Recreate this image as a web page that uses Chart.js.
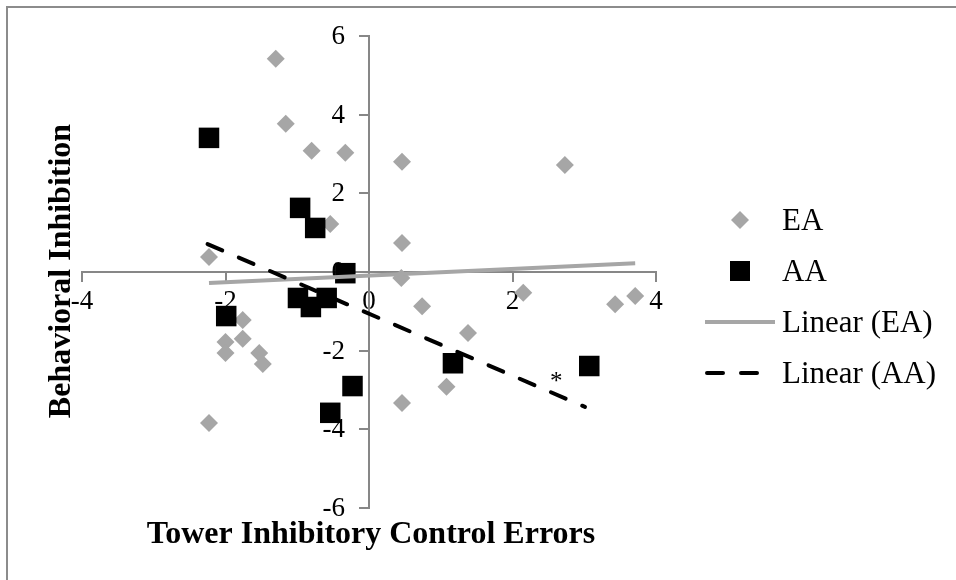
<!DOCTYPE html>
<html>
<head>
<meta charset="utf-8">
<script src="https://cdn.jsdelivr.net/npm/chart.js@4.4.1/dist/chart.umd.min.js"></script>
<style>
  body { margin: 0; background: #fff; }
  #marco { position: absolute; left: 0; top: 0; width: 956px; height: 580px; overflow: hidden; background: #fff; }
  #borde { position: absolute; left: 6px; top: 6px; width: 1000px; height: 1000px; border-left: 2px solid #8c8c8c; border-top: 2px solid #8c8c8c; }
  canvas { position: absolute; left: 0; top: 0; }
</style>
</head>
<body>
<div id="marco">
  <div id="borde"></div>
  <canvas id="grafico" width="956" height="580"></canvas>
</div>
<script>
// datos
const eaX = [-1.30, -1.16, -0.80, -0.33, 0.46, -0.54, 0.46, -2.23, 0.45, 0.74, 2.15, 3.43,
             3.71, 1.38, 1.08, 0.46, 2.73, -1.76, -2.00, -1.76, -2.00, -1.53, -1.48, -2.23];
const eaY = [5.42, 3.77, 3.08, 3.03, 2.80, 1.22, 0.74, 0.38, -0.15, -0.87, -0.53, -0.82,
             -0.61, -1.55, -2.92, -3.33, 2.72, -1.22, -1.78, -1.70, -2.06, -2.06, -2.34, -3.84];

const aaX = [-2.23, -0.96, -0.75, -0.33, -1.99, -0.99, -0.81, -0.59, -0.23, -0.54, 1.17, 3.07];
const aaY = [3.41, 1.63, 1.12, -0.03, -1.12, -0.66, -0.89, -0.66, -2.90, -3.58, -2.32, -2.39];

// tendencias (extremos)
const lineaEAX = [-2.23, 3.71];
const lineaEAY = [-0.28, 0.22];
const lineaAAX = [-2.25, 3.01];
const lineaAAY = [0.71, -3.43];

const nombres = ["EA", "AA", "Linear (EA)", "Linear (AA)"];
const tituloX = "Tower Inhibitory Control Errors";
const tituloY = "Behavioral Inhibition";
const nota = { x: 2.61, y: -2.82, texto: "*" };

const fuente = "'Liberation Serif', 'Times New Roman', serif";
const grisEje = "#878787";
const tamTicks = 27;

const puntos = (xs, ys) => xs.map((x, i) => ({ x: x, y: ys[i] }));

const textos = {
  id: "textos",
  beforeDatasetsDraw(chart) {
    // etiquetas del eje y, a la izquierda del eje central
    const ctx = chart.ctx;
    const sx = chart.scales.x, sy = chart.scales.y;
    const x0 = sx.getPixelForValue(0);
    ctx.save();
    ctx.fillStyle = "#000";
    ctx.font = tamTicks + "px " + fuente;
    ctx.textAlign = "right";
    ctx.textBaseline = "middle";
    sy.ticks.forEach(t => {
      ctx.fillText(String(t.value), x0 - 24, sy.getPixelForValue(t.value) + 1);
    });
    ctx.restore();
  },
  afterDatasetsDraw(chart) {
    const ctx = chart.ctx;
    const sx = chart.scales.x, sy = chart.scales.y;
    ctx.save();
    ctx.fillStyle = "#000";
    ctx.font = "25px " + fuente;
    ctx.textAlign = "center";
    ctx.textBaseline = "middle";
    ctx.fillText(nota.texto, sx.getPixelForValue(nota.x), sy.getPixelForValue(nota.y));
    ctx.restore();
  },
  afterDraw(chart) {
    const ctx = chart.ctx;
    ctx.save();
    ctx.fillStyle = "#000";
    ctx.font = "bold 32px " + fuente;
    ctx.textAlign = "center";
    ctx.textBaseline = "alphabetic";
    ctx.fillText(tituloX, 371, 543);
    ctx.translate(70, 271);
    ctx.rotate(-Math.PI / 2);
    ctx.fillText(tituloY, 0, 0);
    ctx.restore();

    // leyenda
    const ds = chart.data.datasets;
    const base = [230, 281, 332, 383];
    ctx.save();
    ds.forEach((d, i) => {
      const yc = base[i] - 10;
      ctx.fillStyle = d.backgroundColor;
      ctx.strokeStyle = d.borderColor;
      if (i === 0) {
        ctx.beginPath();
        ctx.moveTo(731, yc); ctx.lineTo(740, yc - 9); ctx.lineTo(749, yc); ctx.lineTo(740, yc + 9);
        ctx.closePath();
        ctx.fill();
      } else if (i === 1) {
        ctx.fillRect(730, yc - 10, 20, 20);
      } else {
        ctx.lineWidth = d.borderWidth;
        ctx.lineCap = d.borderCapStyle || "butt";
        ctx.setLineDash(d.borderDash || []);
        ctx.beginPath();
        ctx.moveTo(i === 3 ? 707 : 705, yc);
        ctx.lineTo(775, yc);
        ctx.stroke();
        ctx.setLineDash([]);
      }
      ctx.fillStyle = "#000";
      ctx.font = "31px " + fuente;
      ctx.textAlign = "left";
      ctx.textBaseline = "alphabetic";
      ctx.fillText(d.label, 782, base[i]);
    });
    ctx.restore();
  }
};

new Chart(document.getElementById("grafico"), {
  type: "scatter",
  data: {
    datasets: [
      {
        label: nombres[0],
        data: puntos(eaX, eaY),
        pointStyle: "rectRot",
        pointRadius: 9,
        pointBorderWidth: 0,
        backgroundColor: "#a6a6a6",
        borderColor: "#a6a6a6",
        order: 4
      },
      {
        label: nombres[1],
        data: puntos(aaX, aaY),
        pointStyle: "rect",
        pointRadius: 14.5,
        pointBorderWidth: 0,
        backgroundColor: "#000000",
        borderColor: "#000000",
        order: 3
      },
      {
        label: nombres[2],
        type: "line",
        data: puntos(lineaEAX, lineaEAY),
        borderColor: "#a6a6a6",
        backgroundColor: "#a6a6a6",
        borderWidth: 4,
        pointRadius: 0,
        fill: false,
        order: 2
      },
      {
        label: nombres[3],
        type: "line",
        data: puntos(lineaAAX, lineaAAY),
        borderColor: "#000000",
        backgroundColor: "#000000",
        borderWidth: 4,
        borderDash: [16, 18],
        borderCapStyle: "round",
        pointRadius: 0,
        fill: false,
        order: 1
      }
    ]
  },
  options: {
    responsive: false,
    animation: false,
    devicePixelRatio: 1,
    layout: { padding: { left: 82, top: 36, right: 300, bottom: 72 } },
    plugins: {
      legend: { display: false },
      tooltip: { enabled: false }
    },
    scales: {
      x: {
        type: "linear",
        min: -4,
        max: 4,
        position: { y: 0 },
        border: { color: grisEje, width: 2 },
        grid: { drawOnChartArea: false, drawTicks: true, tickLength: 9, color: grisEje, lineWidth: 2 },
        ticks: { stepSize: 2, color: "#000", font: { family: fuente, size: tamTicks }, padding: 5, maxRotation: 0 }
      },
      y: {
        type: "linear",
        min: -6,
        max: 6,
        position: { x: 0 },
        border: { color: grisEje, width: 2 },
        grid: { drawOnChartArea: false, drawTicks: true, tickLength: 9, color: grisEje, lineWidth: 2 },
        ticks: { stepSize: 2, display: false }
      }
    }
  },
  plugins: [textos]
});
</script>
</body>
</html>
